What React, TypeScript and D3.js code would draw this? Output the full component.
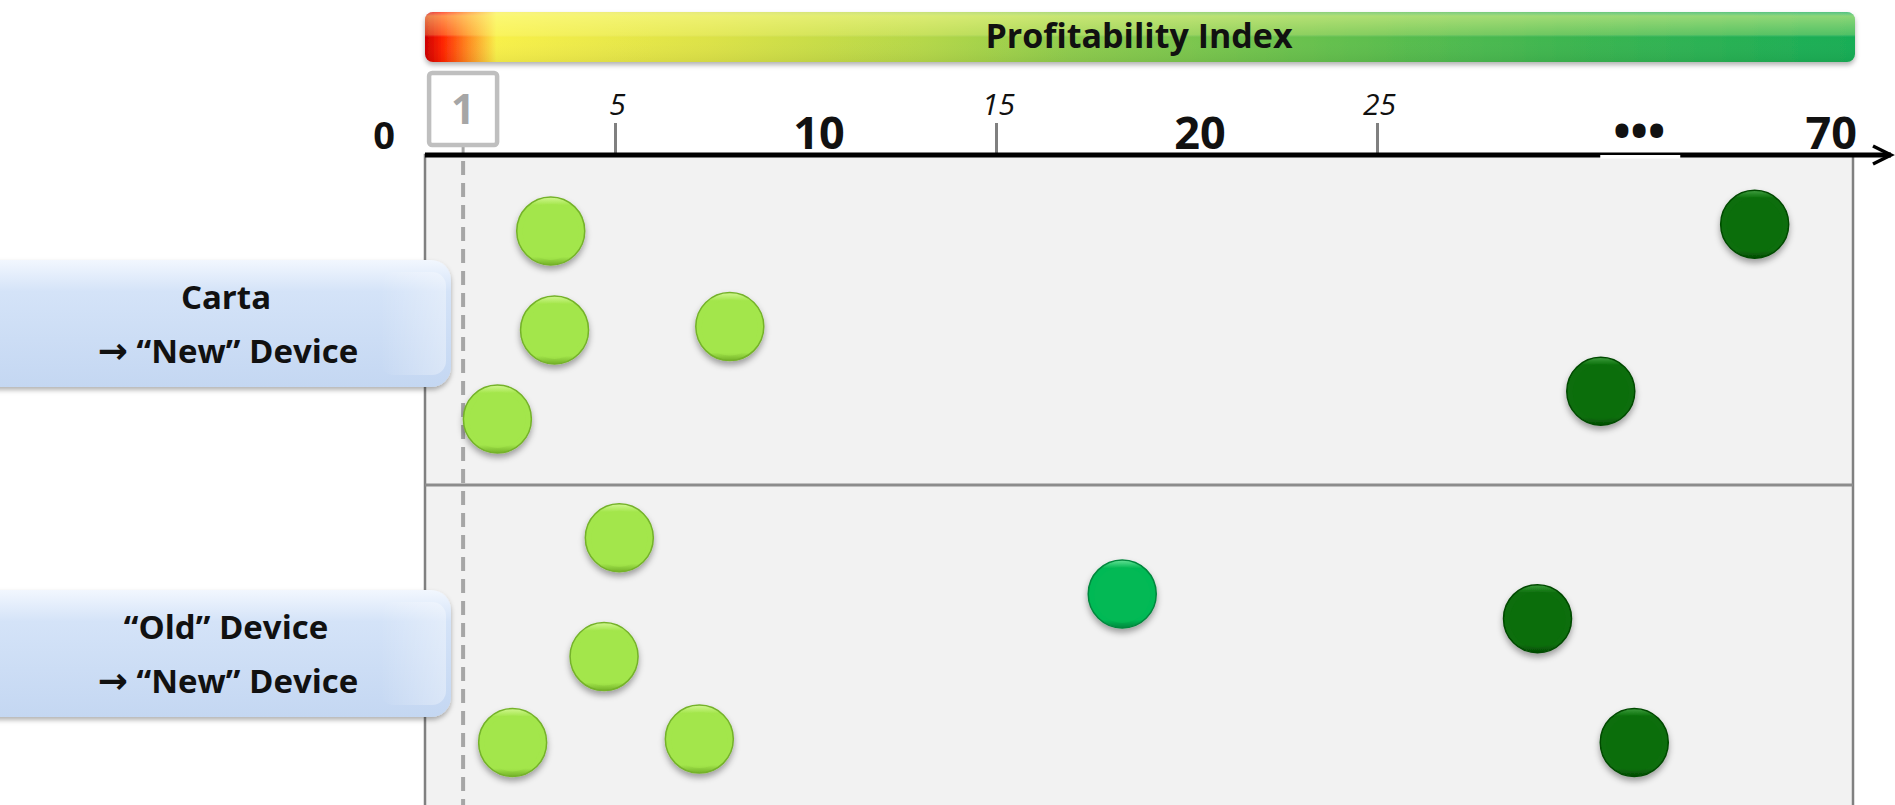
import React from "react";
import * as d3 from "d3";

// groups shown as blue tabs on the left
const groupTitles = ["Carta", "“Old” Device"];
const groupSubtitles = ["“New” Device", "“New” Device"];

// axis labels
const majorLabels = [0, 10, 20, 70];
const minorTicks = [5, 15, 25];
const breakAt = 40;
const thresholdValue = 1;

// points: group index, profitability index, vertical slot inside the group (0 top .. 1 bottom)
const dotGroup = [0, 0, 0, 0, 0, 0, 1, 1, 1, 1, 1, 1, 1];
const dotValue = [3.3, 3.4, 8.0, 1.9, 56.2, 34.6, 5.1, 18.3, 29.2, 4.7, 2.3, 7.2, 39.3];
const dotSlot = [0.23, 0.53, 0.52, 0.8, 0.21, 0.716, 0.16, 0.33, 0.405, 0.52, 0.78, 0.77, 0.78];

const W = 1895;
const H = 805;
const font = "'Open Sans', 'DejaVu Sans', sans-serif";

const App = () => {
  // broken axis: linear up to 30, then compressed to 70
  const x = d3.scaleLinear().domain([0, 30, 70]).range([425, 1568, 1853]);
  const y = d3.scaleLinear().domain([0, 2]).range([155, 815]);
  const tier = d3.scaleThreshold<number, string>().domain([10, 25]).range(["low", "mid", "high"]);

  const colors: any = {
    low: { top: "#d2f792", base: "#a3e64b", rim: "#74b229" },
    mid: { top: "#66e296", base: "#05b955", rim: "#03873d" },
    high: { top: "#3f9e3f", base: "#0a6e0a", rim: "#044a04" },
  };

  const plotLeft = x(0);
  const plotRight = x(70);
  const plotTop = y(0);
  const r = 34;

  const barStops = [
    [0, "#cc0000"],
    [0.012, "#ff2200"],
    [0.03, "#ff8a20"],
    [0.05, "#f8f04a"],
    [0.2, "#dce246"],
    [0.35, "#b4d748"],
    [0.45, "#8fcc4d"],
    [0.6, "#6cc24d"],
    [0.8, "#3cb550"],
    [1, "#18ad55"],
  ];

  return (
    <svg
      width={W}
      height={H}
      style={{ position: "absolute", left: 0, top: 0, display: "block", background: "#fff" }}
    >
      <defs>
        <linearGradient id="barGrad" x1="0" x2="1" y1="0" y2="0">
          {barStops.map((s, i) => (
            <stop key={i} offset={s[0] as number} stopColor={s[1] as string} />
          ))}
        </linearGradient>
        <linearGradient id="gloss" x1="0" x2="0" y1="0" y2="1">
          <stop offset="0" stopColor="#fff" stopOpacity="0.25" />
          <stop offset="0.08" stopColor="#ffff99" stopOpacity="0.5" />
          <stop offset="0.45" stopColor="#ffff99" stopOpacity="0.25" />
          <stop offset="0.5" stopColor="#fff" stopOpacity="0" />
          <stop offset="1" stopColor="#000" stopOpacity="0.05" />
        </linearGradient>
        <linearGradient id="tabGrad" x1="0" x2="0" y1="0" y2="1">
          <stop offset="0" stopColor="#f2f7fe" />
          <stop offset="0.25" stopColor="#d4e3f8" />
          <stop offset="1" stopColor="#c4d7f2" />
        </linearGradient>
        <linearGradient id="tabEdge" x1="0" x2="1" y1="0" y2="0">
          <stop offset="0" stopColor="#fff" stopOpacity="0" />
          <stop offset="1" stopColor="#fff" stopOpacity="0.35" />
        </linearGradient>
        {Object.keys(colors).map((k) => (
          <linearGradient key={k} id={"dot-" + k} x1="0" x2="0" y1="0" y2="1">
            <stop offset="0" stopColor={colors[k].top} />
            <stop offset="0.12" stopColor={colors[k].base} />
            <stop offset="0.88" stopColor={colors[k].base} />
            <stop offset="1" stopColor={colors[k].rim} />
          </linearGradient>
        ))}
        <filter id="shadow" x="-20%" y="-20%" width="140%" height="150%">
          <feDropShadow dx="0" dy="4" stdDeviation="3" floodColor="#000" floodOpacity="0.35" />
        </filter>
        <filter id="softShadow" x="-5%" y="-20%" width="110%" height="160%">
          <feDropShadow dx="0" dy="3" stdDeviation="2.5" floodColor="#000" floodOpacity="0.3" />
        </filter>
      </defs>

      {/* profitability gradient bar */}
      <g filter="url(#softShadow)">
        <rect x={425} y={12} width={1430} height={50} rx={8} fill="url(#barGrad)" />
      </g>
      <rect x={425} y={12} width={1430} height={50} rx={8} fill="url(#gloss)" />
      <text x={1139} y={48} textAnchor="middle" fontFamily={font} fontWeight="bold" fontSize={34} fill="#111">
        Profitability Index
      </text>

      {/* plot area */}
      <rect x={plotLeft} y={plotTop} width={plotRight - plotLeft} height={H} fill="#f2f2f2" stroke="#808080" strokeWidth={2.5} />
      <line x1={plotLeft} x2={plotRight} y1={y(1)} y2={y(1)} stroke="#8c8c8c" strokeWidth={3} />

      {/* threshold line at 1 */}
      <line x1={x(thresholdValue)} x2={x(thresholdValue)} y1={plotTop + 6} y2={H} stroke="#a6a6a6" strokeWidth={4} strokeDasharray="14 8" />
      <line x1={x(thresholdValue)} x2={x(thresholdValue)} y1={145} y2={plotTop} stroke="#a6a6a6" strokeWidth={3} />
      <rect x={x(thresholdValue) - 34} y={73} width={68} height={72} rx={3} fill="#fff" stroke="#bfbfbf" strokeWidth={4.5} />
      <text x={x(thresholdValue)} y={124} textAnchor="middle" fontFamily={font} fontWeight="bold" fontSize={42} fill="#a6a6a6">
        {thresholdValue}
      </text>

      {/* minor ticks */}
      {minorTicks.map((t) => (
        <g key={t}>
          <line x1={x(t)} x2={x(t)} y1={123} y2={plotTop} stroke="#808080" strokeWidth={3} />
          <text x={x(t) + 2} y={115} textAnchor="middle" fontFamily={font} fontStyle="italic" fontSize={30} fill="#111">
            {t}
          </text>
        </g>
      ))}

      {/* axis line with break and arrow */}
      <line x1={plotLeft} x2={1891} y1={plotTop} y2={plotTop} stroke="#000" strokeWidth={5} />
      <rect x={x(breakAt) - 39} y={plotTop} width={80} height={3.5} fill="#fff" />
      <polyline points={`1873,146 1891,${plotTop} 1873,${2 * plotTop - 146}`} fill="none" stroke="#000" strokeWidth={3.5} />
      <text x={x(breakAt)} y={148} textAnchor="middle" fontFamily={font} fontWeight="bold" fontSize={46} fill="#111">
        •••
      </text>

      {/* major labels */}
      {majorLabels.map((v) => {
        const isZero = v === 0;
        const isLast = v === 70;
        const lx = isZero ? x(v) - 41 : isLast ? x(v) + 4 : x(v) + 13;
        return (
          <text
            key={v}
            x={lx}
            y={149}
            textAnchor={isLast ? "end" : "middle"}
            fontFamily={font}
            fontWeight="bold"
            fontSize={isZero ? 38 : 45}
            fill="#111"
          >
            {v}
          </text>
        );
      })}

      {/* points */}
      {dotValue.map((v, i) => {
        const k = tier(v);
        const cx = x(v);
        const cy = y(dotGroup[i] + dotSlot[i]);
        return (
          <g key={i}>
            <circle cx={cx} cy={cy} r={r} fill={"url(#dot-" + k + ")"} stroke={colors[k].rim} strokeWidth={1.5} filter="url(#shadow)" />
            <circle cx={cx} cy={cy + 1} r={r - 6} fill={colors[k].base} opacity={0.6} />
          </g>
        );
      })}

      {/* group tabs */}
      {groupTitles.map((g, i) => {
        const cy = y(i + 0.5) + 3;
        const top = cy - 63;
        return (
          <g key={g}>
            <rect x={-30} y={top} width={481} height={127} rx={20} fill="url(#tabGrad)" filter="url(#softShadow)" />
            <rect x={380} y={top + 12} width={66} height={103} rx={14} fill="url(#tabEdge)" />
            <text x={226} y={top + 49} textAnchor="middle" fontFamily={font} fontWeight="bold" fontSize={33} fill="#111">
              {g}
            </text>
            <text x={228} y={top + 103} textAnchor="middle" fontFamily={font} fontWeight="bold" fontSize={33} fill="#111">
              <tspan fontFamily="'DejaVu Sans', sans-serif" fontSize={36}>→</tspan>
              <tspan> {groupSubtitles[i]}</tspan>
            </text>
          </g>
        );
      })}
    </svg>
  );
};

export default App;
